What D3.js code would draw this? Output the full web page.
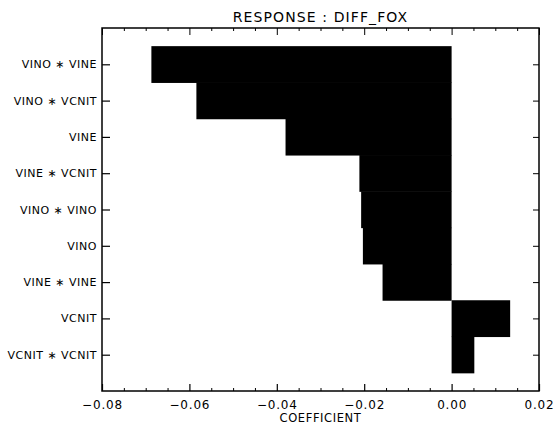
<!DOCTYPE html>
<html>
<head>
<meta charset="utf-8">
<script src="https://cdn.jsdelivr.net/npm/d3@7"></script>
<style>
  body { margin: 0; background: #fff; }
  svg { display: block; }
  text { font-family: 'DejaVu Sans', sans-serif; fill: #000; }
</style>
</head>
<body>
<svg width="555" height="429"></svg>
<script>
  const terms = ['VINO \u2217 VINE', 'VINO \u2217 VCNIT', 'VINE', 'VINE \u2217 VCNIT',
    'VINO \u2217 VINO', 'VINO', 'VINE \u2217 VINE', 'VCNIT', 'VCNIT \u2217 VCNIT'];
  const coefficients = [-0.0687, -0.0584, -0.0380, -0.0211, -0.0207, -0.0203, -0.0158, 0.0134, 0.0052];
  const xTicks = [-0.08, -0.06, -0.04, -0.02, 0.00, 0.02];
  const title = 'RESPONSE : DIFF_FOX';
  const xAxisLabel = 'COEFFICIENT';

  const svg = d3.select('svg');
  const margin = { top: 28, right: 16, bottom: 38, left: 102 };
  const width = +svg.attr('width');
  const height = +svg.attr('height');
  const innerWidth = width - margin.left - margin.right;
  const innerHeight = height - margin.top - margin.bottom;

  const data = terms.map((t, i) => ({ term: t, value: coefficients[i] }));

  const xScale = d3.scaleLinear()
    .domain([-0.08, 0.02])
    .range([0, innerWidth]);

  const yScale = d3.scalePoint()
    .domain(terms)
    .range([0, innerHeight])
    .padding(1);
  const step = yScale.step();

  const g = svg.append('g')
    .attr('transform', `translate(${margin.left},${margin.top})`);

  // bars
  g.selectAll('rect.bar').data(data)
    .enter().append('rect')
      .attr('class', 'bar')
      .attr('x', d => xScale(Math.min(0, d.value)))
      .attr('width', d => Math.abs(xScale(d.value) - xScale(0)))
      .attr('y', d => yScale(d.term) - step / 2)
      .attr('height', step + 0.5)
      .attr('fill', '#000');

  // minor ticks every 0.005
  const minor = d3.range(-0.08, 0.0201, 0.005).filter(v => Math.abs(Math.round(v / 0.02) * 0.02 - v) > 1e-6);

  const fmt = d => d3.format('.2f')(d).replace('-', '\u2212');

  const xBottom = g.append('g')
    .attr('transform', `translate(0,${innerHeight})`)
    .call(d3.axisBottom(xScale).tickValues(xTicks).tickSize(-7).tickPadding(9).tickFormat(fmt));
  xBottom.select('.domain').remove();
  xBottom.selectAll('text').attr('font-size', 12).attr('letter-spacing', 0.8);
  xBottom.selectAll('.tick line').attr('stroke-width', 1.2);

  const plainAxis = (axis, transform) => {
    const a = g.append('g').attr('transform', transform).call(axis);
    a.select('.domain').remove();
    a.selectAll('text').remove();
    return a;
  };

  plainAxis(d3.axisBottom(xScale).tickValues(minor).tickSize(-3), `translate(0,${innerHeight})`);
  plainAxis(d3.axisTop(xScale).tickValues(xTicks).tickSize(-7), 'translate(0,0)');
  plainAxis(d3.axisTop(xScale).tickValues(minor).tickSize(-3), 'translate(0,0)');
  plainAxis(d3.axisRight(yScale).tickSize(-6), `translate(${innerWidth},0)`);

  const yLeft = g.append('g')
    .call(d3.axisLeft(yScale).tickSize(-8));
  yLeft.select('.domain').remove();
  yLeft.selectAll('text').attr('font-size', 11).attr('letter-spacing', 0.5).attr('x', -5);
  yLeft.selectAll('.tick line').attr('stroke-width', 1.2);

  // frame
  g.append('rect')
    .attr('width', innerWidth)
    .attr('height', innerHeight)
    .attr('fill', 'none')
    .attr('stroke', '#000')
    .attr('stroke-width', 1.5);

  svg.append('text')
    .attr('x', margin.left + innerWidth / 2)
    .attr('y', 22)
    .attr('text-anchor', 'middle')
    .attr('font-size', 14)
    .attr('letter-spacing', 1.1)
    .text(title);

  svg.append('text')
    .attr('x', margin.left + innerWidth / 2)
    .attr('y', 422)
    .attr('text-anchor', 'middle')
    .attr('font-size', 11.5)
    .attr('letter-spacing', 0.6)
    .text(xAxisLabel);
</script>
</body>
</html>
